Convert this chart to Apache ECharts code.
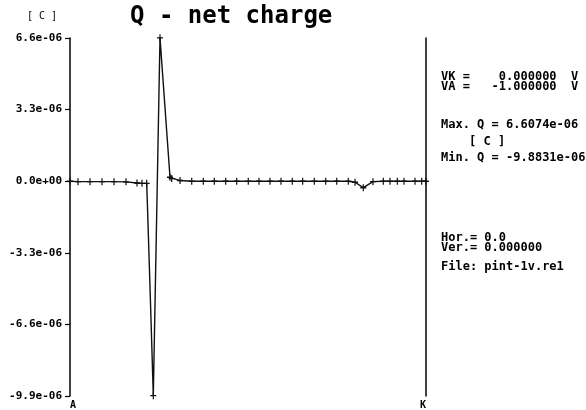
<!DOCTYPE html>
<html>
<head>
<meta charset="utf-8">
<script src="https://cdn.jsdelivr.net/npm/echarts@6/dist/echarts.min.js"></script>
<style>
html,body{margin:0;padding:0;background:#fff;}
#chart{width:586px;height:410px;}
</style>
</head>
<body>
<div id="chart"></div>
<script>
// Position along the device from A (0) to K (100), percent
const position = [0, 2.25, 5.62, 8.99, 12.36, 15.73, 18.82, 20.22, 21.54, 21.71, 22.61, 23.40, 25.28, 28.09, 28.57, 30.90, 34.19, 37.44, 40.53, 43.74, 46.83, 50.08, 53.09, 56.18, 59.27, 62.44, 65.36, 68.62, 71.83, 74.92, 78.17, 80.06, 82.39, 85.11, 88.01, 89.89, 91.94, 93.82, 96.91, 98.79, 100];
// Net charge Q, in units of 1e-6 C
const charge = [0, -0.02, -0.02, -0.02, -0.02, -0.03, -0.08, -0.1, -0.1, -0.9, -5.6, -9.8831, 6.6074, 0.18, 0.12, 0.03, 0, 0, 0, 0, 0, 0, 0, 0, 0, 0, 0, 0, 0, 0, 0, -0.05, -0.3, -0.02, 0, 0, 0, 0, 0, 0, 0];
// Y tick values (1e-6 C)
const yMin = -9.9, yMax = 6.6, yStep = 3.3;
const xEndLabels = ['A', 'K'];
const titleText = 'Q - net charge';
const unitText = '[ C ]';
const panelLines1 = ['VK =    0.000000  V', 'VA =   -1.000000  V'];
const maxText = 'Max. Q = 6.6074e-06';
const minText = 'Min. Q = -9.8831e-06';
const panelLines2 = ['Hor.= 0.0', 'Ver.= 0.000000'];
const fileText = 'File: pint-1v.re1';

const mono = '"DejaVu Sans Mono", "Liberation Mono", monospace';
const data = position.map((p, i) => [p, charge[i]]);

function fmt(v) {
  if (Math.abs(v) < 1e-9) return '0.0e+00';
  return v.toFixed(1) + 'e-06';
}

const chart = echarts.init(document.getElementById('chart'), null, {renderer: 'canvas'});
chart.setOption({
  backgroundColor: '#fff',
  animation: false,
  grid: {left: 70, right: 160, top: 38, bottom: 14, containLabel: false},
  xAxis: {
    type: 'value', min: 0, max: 100, position: 'bottom',
    axisLine: {show: false}, axisTick: {show: false}, splitLine: {show: false},
    axisLabel: {
      show: true, margin: 4, fontFamily: mono, fontWeight: 'bold', fontSize: 10, color: '#000',
      alignMinLabel: 'left', alignMaxLabel: 'right',
      customValues: [0, 100],
      formatter: v => (v === 0 ? xEndLabels[0] : (v === 100 ? xEndLabels[1] : ''))
    }
  },
  yAxis: [{
    type: 'value', min: yMin, max: yMax, interval: yStep, position: 'left',
    axisLine: {show: true, lineStyle: {color: '#000', width: 1.5}},
    axisTick: {show: true, length: 5, lineStyle: {color: '#000', width: 1.2}},
    splitLine: {show: false},
    axisLabel: {margin: 8, fontFamily: mono, fontWeight: 'bold', fontSize: 11, color: '#000', formatter: fmt}
  }, {
    type: 'value', min: yMin, max: yMax, interval: yStep, position: 'right',
    axisLine: {show: true, lineStyle: {color: '#000', width: 1.5}},
    axisTick: {show: false}, axisLabel: {show: false}, splitLine: {show: false}
  }],
  series: [{
    type: 'line', data: data, clip: false,
    lineStyle: {color: '#111', width: 1.4},
    symbol: 'path://M4,0H6V4H10V6H6V10H4V6H0V4H4Z',
    symbolSize: v => (Math.abs(v[1]) > 0.5 && Math.abs(v[1]) < 6.6 ? 0 : [6, 7]),
    itemStyle: {color: '#111'},
    showSymbol: true
  }],
  graphic: [
    {type: 'text', left: 130, top: 5, style: {text: titleText, font: 'bold 24px ' + mono, fill: '#000'}},
    {type: 'text', left: 27, top: 11, style: {text: unitText, font: '10px ' + mono, fill: '#000'}},
    {type: 'text', left: 441, top: 71, style: {text: panelLines1.join('\n'), font: 'bold 12px ' + mono, lineHeight: 10, fill: '#000'}},
    {type: 'text', left: 441, top: 119, style: {text: maxText, font: 'bold 12px ' + mono, fill: '#000'}},
    {type: 'text', left: 469, top: 136, style: {text: unitText, font: 'bold 12px ' + mono, fill: '#000'}},
    {type: 'text', left: 441, top: 152, style: {text: minText, font: 'bold 12px ' + mono, fill: '#000'}},
    {type: 'text', left: 441, top: 232, style: {text: panelLines2.join('\n'), font: 'bold 12px ' + mono, lineHeight: 10, fill: '#000'}},
    {type: 'text', left: 441, top: 261, style: {text: fileText, font: 'bold 12px ' + mono, fill: '#000'}}
  ]
});
</script>
</body>
</html>
